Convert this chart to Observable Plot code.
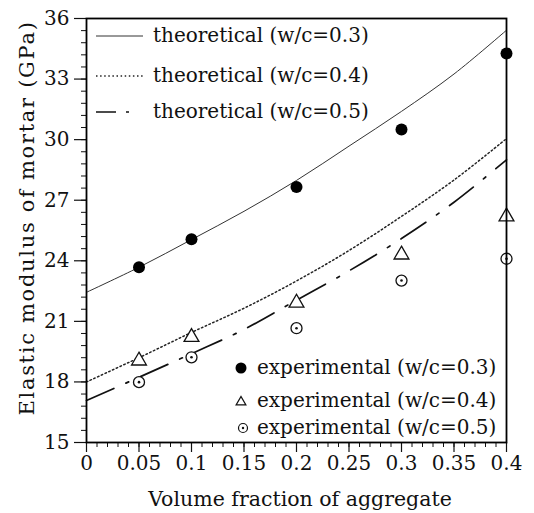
<!DOCTYPE html>
<html>
<head>
<meta charset="utf-8">
<script src="https://cdn.jsdelivr.net/npm/d3@7"></script>
<script src="https://cdn.jsdelivr.net/npm/@observablehq/plot@0.6"></script>
<style>
  html, body { margin: 0; padding: 0; background: #fff; }
  #chart svg { display: block; }
</style>
</head>
<body>
<div id="chart"></div>
<script>
// ---- data ----
const xTicks = [0, 0.05, 0.1, 0.15, 0.2, 0.25, 0.3, 0.35, 0.4];
const xTickLabels = ["0", "0.05", "0.1", "0.15", "0.2", "0.25", "0.3", "0.35", "0.4"];
const yTicks = [15, 18, 21, 24, 27, 30, 33, 36];
const yTickLabels = ["15", "18", "21", "24", "27", "30", "33", "36"];

const fraction = [0.05, 0.1, 0.2, 0.3, 0.4];
const exp03 = [23.68, 25.07, 27.65, 30.5, 34.27];
const exp04 = [19.05, 20.22, 21.92, 24.3, 26.19];
const exp05 = [17.99, 19.22, 20.66, 23.02, 24.1];

const curveX = [0, 0.05, 0.1, 0.15, 0.2, 0.25, 0.3, 0.35, 0.4];
const theo03 = [22.44, 23.68, 25.05, 26.45, 27.98, 29.68, 31.4, 33.25, 35.42];
const theo04 = [18.0, 19.2, 20.45, 21.65, 23.0, 24.51, 26.2, 28.0, 30.05];
const theo05 = [17.08, 18.23, 19.4, 20.6, 22.05, 23.5, 25.1, 26.9, 29.0];

const theoLabels = ["theoretical (w/c=0.3)", "theoretical (w/c=0.4)", "theoretical (w/c=0.5)"];
const expLabels = ["experimental (w/c=0.3)", "experimental (w/c=0.4)", "experimental (w/c=0.5)"];
const xLabel = "Volume fraction of aggregate";
const yLabel = "Elastic modulus of mortar (GPa)";

// ---- tables ----
const toRows = (xs, ys) => xs.map((x, i) => ({x, y: ys[i]}));
const t03 = toRows(curveX, theo03), t04 = toRows(curveX, theo04), t05 = toRows(curveX, theo05);
const e03 = toRows(fraction, exp03), e04 = toRows(fraction, exp04), e05 = toRows(fraction, exp05);
const xMinor = d3.range(0, 41).map(i => i / 100);
const yMinor = d3.range(0, 36).map(i => 15 + i * 0.6);

const FONT = "DejaVu Serif";
const dotted = "1.5,2.6";
const dashDot = "30,13,3,13";

const plot = Plot.plot({
  width: 534,
  height: 513,
  marginLeft: 86,
  marginRight: 28,
  marginTop: 18,
  marginBottom: 71,
  style: {fontFamily: FONT, fontSize: "20px", color: "#111", background: "#fff"},
  x: {domain: [0, 0.4]},
  y: {domain: [15, 36]},
  marks: [
    Plot.axisX(xMinor, {tickSize: 5, text: null, strokeWidth: 1, label: null}),
    Plot.axisX(xTicks, {tickSize: 10, tickPadding: 3, tickFormat: (d, i) => xTickLabels[i], strokeWidth: 1.2, label: null, fontSize: 20}),
    Plot.axisY(yMinor, {tickSize: 5, text: null, strokeWidth: 1, label: null}),
    Plot.axisY(yTicks, {tickSize: 12, tickPadding: 5, tickFormat: (d, i) => yTickLabels[i], strokeWidth: 1.2, label: null, fontSize: 20}),
    Plot.line(t03, {x: "x", y: "y", curve: "catmull-rom", stroke: "#333", strokeWidth: 1}),
    Plot.line(t04, {x: "x", y: "y", curve: "catmull-rom", stroke: "#222", strokeWidth: 1.5, strokeDasharray: dotted}),
    Plot.line(t05, {x: "x", y: "y", curve: "catmull-rom", stroke: "#111", strokeWidth: 1.7, strokeDasharray: dashDot}),
    Plot.dot(e03, {x: "x", y: "y", r: 6, fill: "#000", stroke: "none"}),
    Plot.dot(e04, {x: "x", y: "y", r: 5.5, symbol: "triangle", fill: "#fff", stroke: "#111", strokeWidth: 1.3}),
    Plot.dot(e05, {x: "x", y: "y", r: 5.5, fill: "#fff", stroke: "#111", strokeWidth: 1.3}),
    Plot.dot(e05, {x: "x", y: "y", r: 1.3, fill: "#111", stroke: "none"}),
    Plot.frame({stroke: "#000", strokeWidth: 1.8})
  ]
});

// ---- axis titles and legends (layout in pixels) ----
const svg = d3.select(plot);
const g = svg.append("g").attr("font-family", FONT).attr("fill", "#111").attr("text-anchor", "start");

g.append("text").attr("x", 300).attr("y", 506).attr("font-size", 20.5).attr("text-anchor", "middle").text(xLabel);
g.append("text").attr("transform", "translate(34,218) rotate(-90)").attr("font-size", 21)
  .attr("letter-spacing", 1.7).attr("text-anchor", "middle").text(yLabel);

const theoStyles = [
  {dash: null, w: 1, stroke: "#333"},
  {dash: dotted, w: 1.5, stroke: "#222"},
  {dash: "20,10,3,40", w: 1.7, stroke: "#111"}
];
const theoRowsY = [36, 76, 112];
theoLabels.forEach((lab, i) => {
  const st = theoStyles[i];
  g.append("line").attr("x1", 96).attr("x2", 143).attr("y1", theoRowsY[i]).attr("y2", theoRowsY[i])
    .attr("stroke", st.stroke).attr("stroke-width", st.w).attr("stroke-dasharray", st.dash);
  g.append("text").attr("x", 153).attr("y", theoRowsY[i]).attr("dy", "0.32em").attr("font-size", 20).text(lab);
});
const expRowsY = [368, 401, 428];
const mx = 241;
expLabels.forEach((lab, i) => {
  const y = expRowsY[i];
  if (i === 0) g.append("circle").attr("cx", mx).attr("cy", y).attr("r", 5.5).attr("fill", "#000");
  if (i === 1) g.append("path").attr("d", d3.symbol(d3.symbolTriangle, 40)()).attr("transform", `translate(${mx},${y + 1})`).attr("fill", "#fff").attr("stroke", "#111").attr("stroke-width", 1.3);
  if (i === 2) {
    g.append("circle").attr("cx", mx + 2).attr("cy", y).attr("r", 4.5).attr("fill", "#fff").attr("stroke", "#111").attr("stroke-width", 1.2);
    g.append("circle").attr("cx", mx + 2).attr("cy", y).attr("r", 1.2).attr("fill", "#111");
  }
  g.append("text").attr("x", 257).attr("y", y).attr("dy", "0.32em").attr("font-size", 20).text(lab);
});

document.getElementById("chart").appendChild(plot);
</script>
</body>
</html>
